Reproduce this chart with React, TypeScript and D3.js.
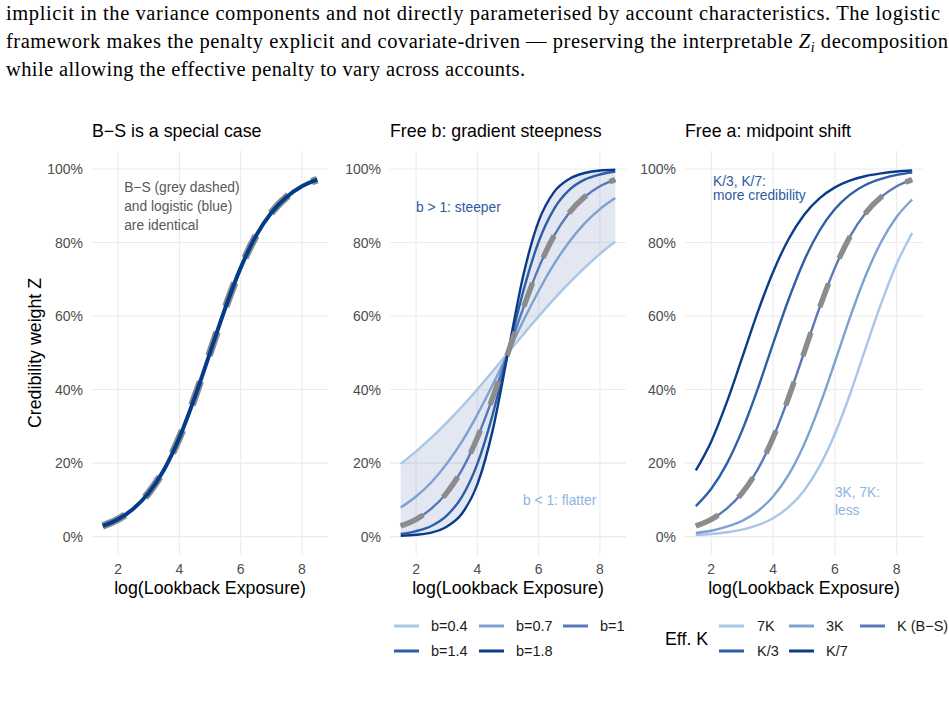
import * as d3 from 'd3';

// log(lookback exposure) grid the curves were read at
const exposure = [1.5, 2, 2.5, 3, 3.5, 4, 4.5, 5, 5.5, 6, 6.5, 7, 7.5, 8, 8.5];

// panel 1: B-S and the matching logistic curve
const bsCurve = [0.029, 0.047, 0.076, 0.119, 0.182, 0.269, 0.378, 0.5, 0.622, 0.731, 0.818, 0.881, 0.924, 0.953, 0.971];
const logisticCurve = [0.029, 0.047, 0.076, 0.119, 0.182, 0.269, 0.378, 0.5, 0.622, 0.731, 0.818, 0.881, 0.924, 0.953, 0.971];

// panel 2: free gradient b
const slopeLabels = ['b=0.4', 'b=0.7', 'b=1', 'b=1.4', 'b=1.8'];
const slopeB04 = [0.198, 0.232, 0.269, 0.31, 0.354, 0.401, 0.45, 0.5, 0.55, 0.599, 0.646, 0.69, 0.731, 0.769, 0.802];
const slopeB07 = [0.079, 0.109, 0.148, 0.198, 0.259, 0.332, 0.413, 0.5, 0.587, 0.668, 0.741, 0.802, 0.852, 0.891, 0.921];
const slopeB10 = [0.029, 0.047, 0.076, 0.119, 0.182, 0.269, 0.378, 0.5, 0.622, 0.731, 0.818, 0.881, 0.924, 0.953, 0.971];
const slopeB14 = [0.007, 0.015, 0.029, 0.057, 0.109, 0.198, 0.332, 0.5, 0.668, 0.802, 0.891, 0.943, 0.971, 0.985, 0.993];
const slopeB18 = [0.002, 0.005, 0.011, 0.027, 0.063, 0.142, 0.289, 0.5, 0.711, 0.858, 0.937, 0.973, 0.989, 0.996, 0.998];

// panel 3: free midpoint a (effective K)
const kLabels = ['7K', '3K', 'K (B\u2212S)', 'K/3', 'K/7'];
const k7x = [0.004, 0.007, 0.012, 0.019, 0.031, 0.05, 0.08, 0.125, 0.191, 0.28, 0.39, 0.514, 0.635, 0.742, 0.826];
const k3x = [0.01, 0.016, 0.027, 0.043, 0.069, 0.109, 0.168, 0.25, 0.355, 0.475, 0.599, 0.711, 0.802, 0.87, 0.917];
const k1x = [0.029, 0.047, 0.076, 0.119, 0.182, 0.269, 0.378, 0.5, 0.622, 0.731, 0.818, 0.881, 0.924, 0.953, 0.971];
const kDiv3 = [0.083, 0.13, 0.198, 0.289, 0.401, 0.525, 0.645, 0.75, 0.832, 0.891, 0.931, 0.957, 0.973, 0.984, 0.99];
const kDiv7 = [0.18, 0.259, 0.365, 0.487, 0.61, 0.72, 0.809, 0.875, 0.92, 0.95, 0.969, 0.981, 0.988, 0.993, 0.996];

const xTicks = [2, 4, 6, 8];
const yTicks = [0, 0.2, 0.4, 0.6, 0.8, 1];

const blues = ['#a9c6e8', '#7ea1d3', '#5879b9', '#2e5ea6', '#0a3d89'];
const GRID = '#ebebeb';
const SANS = '"Liberation Sans", Arial, sans-serif';
const SERIF = '"Liberation Serif", "DejaVu Serif", serif';

const yScale = d3.scaleLinear().domain([-0.05, 1.05]).range([555, 150.6]);

interface PanelProps {
  left: number;
  right: number;
  title: string;
  children: (x: d3.ScaleLinear<number, number>) => React.ReactNode;
}

function Panel({ left, right, title, children }: PanelProps) {
  const x = d3.scaleLinear().domain([1.15, 8.85]).range([left, right]);
  return (
    <g>
      {yTicks.map(t => (
        <line key={'h' + t} x1={left} x2={right} y1={yScale(t)} y2={yScale(t)} stroke={GRID} strokeWidth={1.1} />
      ))}
      {xTicks.map(t => (
        <line key={'v' + t} x1={x(t)} x2={x(t)} y1={150.6} y2={555} stroke={GRID} strokeWidth={1.1} />
      ))}
      {children(x)}
      {yTicks.map(t => (
        <text key={'yl' + t} x={left - 9} y={yScale(t) + 5} textAnchor="end" fontSize={14} fill="#4d4d4d" fontFamily={SANS}>
          {d3.format('.0%')(t)}
        </text>
      ))}
      {xTicks.map(t => (
        <text key={'xl' + t} x={x(t)} y={574} textAnchor="middle" fontSize={14} fill="#4d4d4d" fontFamily={SANS}>
          {t}
        </text>
      ))}
      <text x={left} y={137} fontSize={17.8} fill="#000" fontFamily={SANS}>{title}</text>
      <text x={(left + right) / 2} y={594} textAnchor="middle" fontSize={17.8} fill="#000" fontFamily={SANS}>
        log(Lookback Exposure)
      </text>
    </g>
  );
}

function makeLine(x: d3.ScaleLinear<number, number>) {
  return d3
    .line<number>()
    .x((d, i) => x(exposure[i]))
    .y(d => yScale(d))
    .curve(d3.curveMonotoneX);
}

function Legend({ labels, keyX, labelX, rows }: { labels: string[]; keyX: number[]; labelX: number[]; rows: number[] }) {
  return (
    <g>
      {labels.map((lab, i) => {
        const col = i % 3;
        const row = Math.floor(i / 3);
        const cy = rows[row];
        return (
          <g key={lab}>
            <line x1={keyX[col]} x2={keyX[col] + 25} y1={cy} y2={cy} stroke={blues[i]} strokeWidth={3} />
            <text x={labelX[col]} y={cy + 5} fontSize={14.5} fill="#1a1a1a" fontFamily={SANS}>{lab}</text>
          </g>
        );
      })}
    </g>
  );
}

export default function App() {
  const slopes = [slopeB04, slopeB07, slopeB10, slopeB14, slopeB18];
  const ks = [k7x, k3x, k1x, kDiv3, kDiv7];
  const dash = '25 27';

  return (
    <div style={{ position: 'absolute', left: 0, top: 0 }}>
      <svg width={949} height={714} style={{ display: 'block', background: '#fff' }}>
        {/* running text above the figure */}
        <g fontFamily={SERIF} fontSize={20.5} fill="#000">
          <text x={6} y={20} textLength={934} lengthAdjust="spacing">
            implicit in the variance components and not directly parameterised by account characteristics. The logistic
          </text>
          <text x={6} y={48} textLength={942} lengthAdjust="spacing">
            framework makes the penalty explicit and covariate-driven — preserving the interpretable{' '}
            <tspan fontStyle="italic">Z</tspan>
            <tspan fontStyle="italic" fontSize={14} dy={4}>i</tspan>
            <tspan dy={-4}> decomposition</tspan>
          </text>
          <text x={6} y={76} textLength={519} lengthAdjust="spacing">
            while allowing the effective penalty to vary across accounts.
          </text>
        </g>

        <text
          transform="translate(41,353) rotate(-90)"
          textAnchor="middle"
          fontSize={17.8}
          fontFamily={SANS}
          fill="#000"
        >
          Credibility weight Z
        </text>

        <Panel left={92} right={328} title="B−S is a special case">
          {x => {
            const ln = makeLine(x);
            return (
              <g>
                <path d={ln(bsCurve) || ''} fill="none" stroke="#8c8c8c" strokeWidth={7.5} strokeDasharray={dash} />
                <path d={ln(logisticCurve) || ''} fill="none" stroke="#033c8a" strokeWidth={4} />
                <g fontFamily={SANS} fontSize={13.8} fill="#595959">
                  <text x={x(2.2)} y={192}>B−S (grey dashed)</text>
                  <text x={x(2.2)} y={211}>and logistic (blue)</text>
                  <text x={x(2.2)} y={230}>are identical</text>
                </g>
              </g>
            );
          }}
        </Panel>

        <Panel left={390} right={626} title="Free b: gradient steepness">
          {x => {
            const ln = makeLine(x);
            const band = d3
              .area<number>()
              .x(i => x(exposure[i]))
              .y0(i => yScale(d3.min(slopes, s => s[i]) as number))
              .y1(i => yScale(d3.max(slopes, s => s[i]) as number))
              .curve(d3.curveMonotoneX);
            return (
              <g>
                <path d={band(exposure.map((_, i) => i)) || ''} fill="#3a5fa0" fillOpacity={0.15} />
                {slopes.map((s, i) => (
                  <path key={i} d={ln(s) || ''} fill="none" stroke={blues[i]} strokeWidth={2.4} />
                ))}
                <path d={ln(slopeB10) || ''} fill="none" stroke="#8c8c8c" strokeWidth={5.5} strokeDasharray={dash} />
                <text x={x(2)} y={212} fontFamily={SANS} fontSize={13.8} fill="#2c5aa0">b &gt; 1: steeper</text>
                <text x={523} y={505} fontFamily={SANS} fontSize={13.8} fill="#8fb4df">b &lt; 1: flatter</text>
              </g>
            );
          }}
        </Panel>

        <Panel left={685} right={923} title="Free a: midpoint shift">
          {x => {
            const ln = makeLine(x);
            return (
              <g>
                {ks.map((s, i) => (
                  <path key={i} d={ln(s) || ''} fill="none" stroke={blues[i]} strokeWidth={2.4} />
                ))}
                <path d={ln(k1x) || ''} fill="none" stroke="#8c8c8c" strokeWidth={5.5} strokeDasharray={dash} />
                <g fontFamily={SANS} fontSize={13.8} fill="#2c5aa0">
                  <text x={713} y={186}>K/3, K/7:</text>
                  <text x={713} y={200}>more credibility</text>
                </g>
                <g fontFamily={SANS} fontSize={13.8} fill="#8fb4df">
                  <text x={x(6)} y={497}>3K, 7K:</text>
                  <text x={x(6)} y={515}>less</text>
                </g>
              </g>
            );
          }}
        </Panel>

        <Legend labels={slopeLabels} keyX={[394, 479, 563]} labelX={[431, 516, 600]} rows={[626, 651]} />
        <text x={665} y={645} fontSize={17.8} fontFamily={SANS} fill="#000">Eff. K</text>
        <Legend labels={kLabels} keyX={[719, 789, 860]} labelX={[757, 826, 897]} rows={[626, 651]} />
      </svg>
    </div>
  );
}
